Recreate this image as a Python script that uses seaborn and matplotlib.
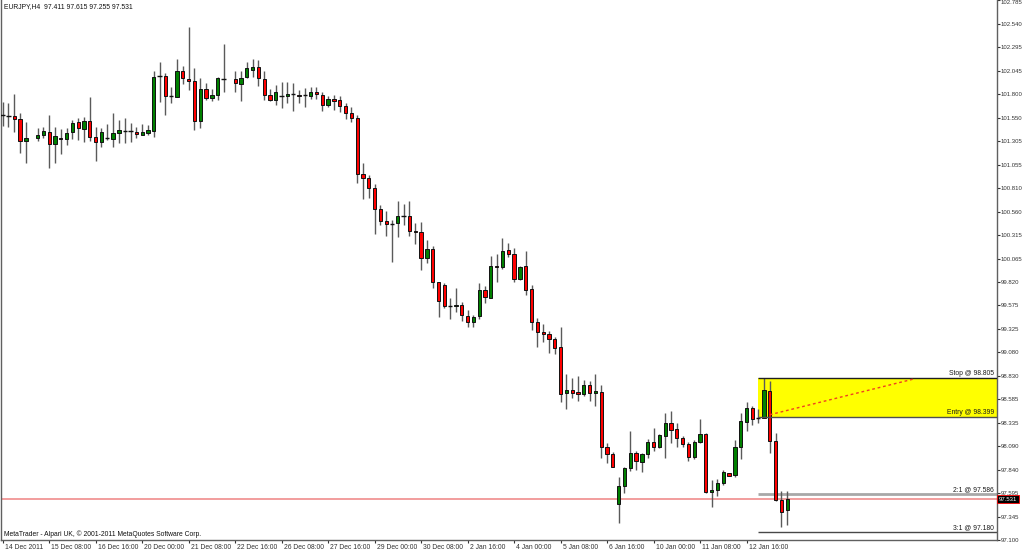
import numpy as np
import pandas as pd
import matplotlib
matplotlib.use("Agg")
import matplotlib.pyplot as plt
import matplotlib.transforms as mtrans
from matplotlib.patches import Rectangle
import seaborn as sns

# EURJPY H4 candles (None = empty slot in the chart)
opens = [101.578, 101.571, 101.568, 101.533, 101.301, None, 101.340, 101.371, 101.403, 101.269,
         101.340, 101.322, 101.403, 101.501, 101.434, 101.515, 101.350, 101.298, 101.336, 101.322,
         101.385, 101.413, 101.406, 101.403, 101.371, 101.392, 101.413, 101.989, 101.989, 101.779,
         101.764, 102.045, 101.957, 101.936, 101.515, 101.852, 101.761, 101.789, 101.957, None,
         101.961, 101.905, 101.975, 102.056, 102.084, 101.961, 101.792, 101.736, 101.775, 101.775,
         101.796, 101.792, 101.785, 101.775, 101.820, 101.792, 101.683, 101.747, 101.733, 101.676,
         101.603, 101.543, 100.953, 100.911, 100.805, 100.588, 100.461, 100.430, 100.444, 100.510,
         100.514, 100.359, 100.345, 100.075, 100.163, 99.815, 99.787, 99.569, 99.562, 99.576,
         99.464, 99.400, 99.464, 99.734, 99.646, 99.991, 99.980, 100.156, 100.113, 99.847,
         99.987, 99.745, 99.400, 99.295, 99.270, 99.217, 99.130, 98.645, 98.680, 98.655,
         98.634, 98.733, 98.645, 98.655, 98.076, 98.006, 97.479, 97.668, 97.855, 98.013,
         97.925, 98.003, 98.129, 98.084, 98.199, 98.336, 98.266, 98.171, 98.112, 97.971,
         98.129, 98.213, 97.602, 97.627, 97.697, 97.803, 97.785, 98.084, 98.347, 98.494,
         98.385, 98.389, 98.673, 98.146, 97.521, 97.411]
highs = [101.719, 101.701, 101.800, 101.603, 101.508, None, 101.438, 101.456, 101.578, 101.456,
         101.427, 101.438, 101.526, 101.543, 101.554, 101.772, 101.448, 101.438, 101.480, 101.596,
         101.526, 101.543, 101.497, 101.456, 101.484, 101.473, 102.046, 102.140, 102.018, 101.870,
         102.165, 102.094, 102.502, 102.070, 101.964, 101.912, 101.848, 101.982, 102.326, None,
         102.042, 102.042, 102.140, 102.168, 102.158, 102.045, 101.848, 101.894, 101.922, 101.929,
         101.912, 101.841, 101.859, 101.877, 101.877, 101.824, 101.778, 101.789, 101.778, 101.701,
         101.666, 101.578, 101.069, 100.946, 100.851, 100.630, 100.570, 100.472, 100.676, 100.637,
         100.676, 100.444, 100.454, 100.261, 100.198, 99.822, 99.811, 99.646, 99.752, 99.611,
         99.523, 99.471, 99.804, 99.776, 100.096, 100.113, 100.279, 100.233, 100.173, 99.987,
         100.149, 99.787, 99.435, 99.372, 99.302, 99.235, 99.340, 98.845, 98.803, 98.828,
         98.785, 98.778, 98.845, 98.733, 98.118, 98.030, 97.760, 97.872, 98.248, 98.038,
         98.013, 98.161, 98.277, 98.220, 98.435, 98.463, 98.336, 98.196, 98.136, 98.154,
         98.372, 98.224, 97.732, 97.739, 97.838, 97.810, 98.154, 98.435, 98.550, 98.512,
         98.477, 98.803, 98.775, 98.224, 97.616, 97.615]
lows = [101.463, 101.456, 101.403, 101.181, 101.069, None, 101.308, 101.333, 101.016, 101.069,
        101.167, 101.262, 101.326, 101.315, 101.298, 101.308, 101.097, 101.245, 101.315, 101.238,
        101.280, 101.280, 101.298, 101.333, 101.364, 101.368, 101.343, 101.719, 101.578, 101.708,
        101.764, 101.905, 101.841, 101.420, 101.437, 101.736, 101.729, 101.736, 101.824, None,
        101.817, 101.729, 101.964, 101.982, 101.884, 101.736, 101.729, 101.683, 101.648, 101.701,
        101.620, 101.701, 101.659, 101.750, 101.743, 101.624, 101.659, 101.631, 101.613, 101.536,
        101.508, 100.858, 100.693, 100.700, 100.324, 100.419, 100.303, 100.033, 100.289, 100.419,
        100.303, 100.219, 99.945, 100.015, 99.752, 99.453, 99.548, 99.425, 99.506, 99.411,
        99.341, 99.348, 99.425, 99.594, 99.646, 99.822, 99.952, 100.085, 99.822, 99.840,
        99.682, 99.313, 99.130, 99.189, 99.073, 99.056, 98.557, 98.476, 98.592, 98.564,
        98.617, 98.568, 98.511, 97.960, 97.907, 97.872, 97.282, 97.598, 97.830, 97.838,
        97.813, 97.961, 98.041, 98.066, 97.961, 98.119, 98.084, 98.084, 97.936, 97.954,
        98.119, 97.592, 97.444, 97.567, 97.680, 97.774, 97.767, 97.950, 98.250, 98.311,
        98.329, 98.382, 98.020, 97.510, 97.233, 97.255]
closes = [101.578, 101.571, 101.533, 101.301, 101.340, None, 101.371, 101.406, 101.269, 101.354,
          101.322, 101.389, 101.494, 101.438, 101.519, 101.343, 101.290, 101.403, 101.336, 101.385,
          101.420, 101.413, 101.406, 101.378, 101.399, 101.420, 101.982, 101.989, 101.779, 101.779,
          102.045, 101.964, 101.936, 101.515, 101.852, 101.761, 101.785, 101.964, 101.957, None,
          101.912, 101.971, 102.070, 102.080, 101.964, 101.789, 101.736, 101.817, 101.775, 101.799,
          101.796, 101.775, 101.785, 101.817, 101.799, 101.683, 101.747, 101.729, 101.676, 101.596,
          101.550, 100.953, 100.911, 100.805, 100.588, 100.461, 100.430, 100.430, 100.514, 100.510,
          100.356, 100.342, 100.075, 100.163, 99.815, 99.618, 99.569, 99.569, 99.576, 99.467,
          99.400, 99.453, 99.734, 99.660, 99.991, 99.973, 100.145, 100.113, 99.847, 99.980,
          99.734, 99.400, 99.288, 99.267, 99.214, 99.126, 98.638, 98.680, 98.645, 98.638,
          98.733, 98.645, 98.673, 98.076, 98.002, 97.872, 97.668, 97.862, 98.020, 97.932,
          98.006, 98.129, 98.084, 98.206, 98.329, 98.259, 98.171, 98.112, 97.971, 98.136,
          98.213, 97.602, 97.627, 97.697, 97.813, 97.778, 98.084, 98.357, 98.494, 98.371,
          98.382, 98.680, 98.143, 97.521, 97.398, 97.531]

# time axis: one label every 8 bars
tick_bars = [0, 8, 16, 24, 32, 40, 48, 56, 64, 72, 80, 88, 96, 104, 112, 120, 128]
tick_labels = ["14 Dec 2011", "15 Dec 08:00", "16 Dec 16:00", "20 Dec 00:00", "21 Dec 08:00",
               "22 Dec 16:00", "26 Dec 08:00", "27 Dec 16:00", "29 Dec 00:00", "30 Dec 08:00",
               "2 Jan 16:00", "4 Jan 00:00", "5 Jan 08:00", "6 Jan 16:00", "10 Jan 00:00",
               "11 Jan 08:00", "12 Jan 16:00"]
price_ticks = [102.785, 102.540, 102.295, 102.045, 101.800, 101.550, 101.305, 101.055,
               100.810, 100.560, 100.315, 100.065, 99.820, 99.575, 99.325, 99.080,
               98.830, 98.585, 98.335, 98.090, 97.840, 97.595, 97.345, 97.100]

header_text = "EURJPY,H4  97.411 97.615 97.255 97.531"
footer_text = "MetaTrader - Alpari UK, \u00a9 2001-2011 MetaQuotes Software Corp."

# trade levels drawn on the chart
stop_price = 98.805
entry_price = 98.399
target_2r = 97.586
target_3r = 97.180
last_price = 97.531
levels_from_bar = 130
trend_bars = [132, 157]
trend_prices = [98.42, 98.80]

sns.set_theme(style="white")
plt.rcParams["font.family"] = ["Liberation Sans", "DejaVu Sans"]

df = pd.DataFrame({"open": opens, "high": highs, "low": lows, "close": closes}, dtype=float)
df["bar"] = np.arange(len(df))
df = df.dropna()
body_lo = np.minimum(df["open"], df["close"])
body_h = (df["close"] - df["open"]).abs()
doji = body_h < 0.006
bull = (df["close"] > df["open"]) & ~doji
bear = (df["close"] < df["open"]) & ~doji

fig = plt.figure(figsize=(10.22, 5.53), dpi=100)
ax = fig.add_axes([1 / 1022, 13 / 553, 996 / 1022, 540 / 553])
ax.set_facecolor("white")

# candles
ax.vlines(df["bar"], df["low"], df["high"], color="#5a5a5a", lw=1.0, zorder=2)
ax.bar(df["bar"][bull], body_h[bull], bottom=body_lo[bull], width=0.56,
       color="#008000", edgecolor="#111111", lw=0.7, zorder=3)
ax.bar(df["bar"][bear], body_h[bear], bottom=body_lo[bear], width=0.56,
       color="#ff0000", edgecolor="#111111", lw=0.7, zorder=3)
ax.hlines(df["close"][doji], df["bar"][doji] - 0.38, df["bar"][doji] + 0.38,
          color="#111111", lw=1.0, zorder=3)

xmin, xmax = -0.29, 171.1
ax.set_xlim(xmin, xmax)
ax.set_ylim(97.10, 102.79)

# risk box and target lines
ax.add_patch(Rectangle((levels_from_bar, entry_price), xmax - levels_from_bar,
                       stop_price - entry_price, facecolor="#ffff00", edgecolor="none", zorder=1))
ax.hlines([stop_price], levels_from_bar, xmax, color="#202020", lw=1.0, zorder=4)
ax.hlines([entry_price], levels_from_bar, xmax, color="#505050", lw=1.0, zorder=4)
ax.hlines([target_2r], levels_from_bar, xmax, color="#a8a8a8", lw=2.0, zorder=1)
ax.hlines([target_3r], levels_from_bar, xmax, color="#484848", lw=1.0, zorder=1)
ax.plot(trend_bars, trend_prices, color="#f04020", lw=1.0, linestyle=(0, (2, 2)), zorder=4)
ax.axhline(last_price, color="#f08c8c", lw=1.2, zorder=1)

ytrans = ax.get_yaxis_transform()
for txt, lvl in [("Stop @ 98.805", stop_price), ("Entry @ 98.399", entry_price),
                 ("2:1 @ 97.586", target_2r), ("3:1 @ 97.180", target_3r)]:
    ax.annotate(txt, xy=(1, lvl), xycoords=ytrans, xytext=(-3, 1), textcoords="offset pixels",
                ha="right", va="bottom", fontsize=4.9, color="#1a1a1a", zorder=5)

# axes styling
for side in ["left", "bottom", "right"]:
    ax.spines[side].set_color("#606060")
    ax.spines[side].set_linewidth(1.0)
ax.spines["top"].set_visible(False)

ax.yaxis.tick_right()
ax.set_yticks(price_ticks)
ax.set_yticklabels([f"{p:.3f}" for p in price_ticks])
ax.tick_params(axis="y", right=True, left=False, length=2.0, width=0.8, pad=0.6,
               labelsize=4.3, colors="#333333")
# top price label is kept inside the picture, as the terminal does
ax.get_yticklabels()[0].set_verticalalignment("top")

ax.set_xticks(tick_bars)
ax.set_xticklabels(tick_labels)
ax.tick_params(axis="x", bottom=True, length=2.5, width=0.8, pad=0.6,
               labelsize=4.9, colors="#333333")
shift = mtrans.ScaledTranslation(2 / 100, 0, fig.dpi_scale_trans)
for lab in ax.get_xticklabels():
    lab.set_horizontalalignment("left")
    lab.set_transform(lab.get_transform() + shift)
ax.grid(False)

# last price marker on the price scale
ax.annotate(f"{last_price:.3f}", xy=(1, last_price), xycoords=ytrans, xytext=(2, 0),
            textcoords="offset pixels", ha="left", va="center", fontsize=4.3, color="white",
            annotation_clip=False, zorder=6,
            bbox=dict(boxstyle="square,pad=0.3", facecolor="black", edgecolor="#ff0000", lw=0.6))

ax.annotate(header_text, xy=(0, 1), xycoords="axes fraction", xytext=(3, -7),
            textcoords="offset pixels", ha="left", va="center", fontsize=4.9, color="#111111")
ax.annotate(footer_text, xy=(0, 0), xycoords="axes fraction", xytext=(3, 6),
            textcoords="offset pixels", ha="left", va="center", fontsize=4.9, color="#111111")

fig.savefig("out.png", dpi=100)
